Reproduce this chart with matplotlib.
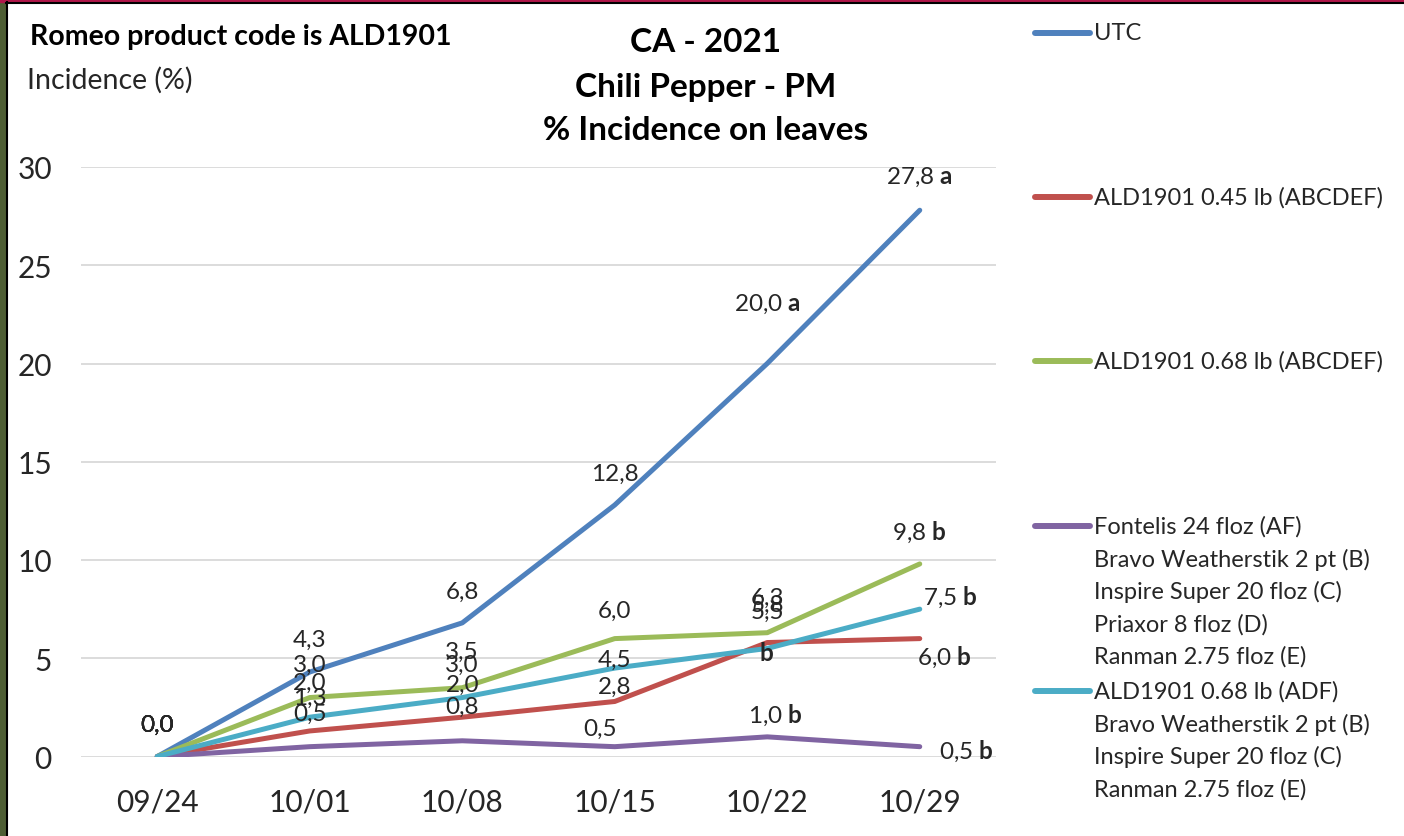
import matplotlib
matplotlib.use("Agg")
import matplotlib.pyplot as plt
from matplotlib.lines import Line2D
from matplotlib.patches import Rectangle

plt.rcParams['font.family'] = ['Lato', 'DejaVu Sans']
plt.rcParams['mathtext.fontset'] = 'custom'
plt.rcParams['mathtext.rm'] = 'Lato'
plt.rcParams['mathtext.bf'] = 'Lato:bold'

# Datos
fechas = ["09/24", "10/01", "10/08", "10/15", "10/22", "10/29"]
utc = [0.0, 4.3, 6.8, 12.8, 20.0, 27.8]
ald_045 = [0.0, 1.3, 2.0, 2.8, 5.8, 6.0]
ald_068 = [0.0, 3.0, 3.5, 6.0, 6.3, 9.8]
fontelis = [0.0, 0.5, 0.8, 0.5, 1.0, 0.5]
ald_068_adf = [0.0, 2.0, 3.0, 4.5, 5.5, 7.5]

# Letras de significancia
letras_utc = ["", "", "", "", "a", "a"]
letras_045 = ["", "", "", "", "", "b"]
letras_068 = ["", "", "", "", "", "b"]
letras_fontelis = ["", "", "", "", "b", "b"]
letras_adf = ["", "", "", "", "", "b"]

legend_labels = [
    "UTC",
    "ALD1901 0.45 lb (ABCDEF)",
    "ALD1901 0.68 lb (ABCDEF)",
    "Fontelis 24 floz (AF)\nBravo Weatherstik 2 pt (B)\nInspire Super 20 floz (C)\nPriaxor 8 floz (D)\nRanman 2.75 floz (E)",
    "ALD1901 0.68 lb (ADF)\nBravo Weatherstik 2 pt (B)\nInspire Super 20 floz (C)\nRanman 2.75 floz (E)",
]

series = [utc, ald_045, ald_068, fontelis, ald_068_adf]
letras = [letras_utc, letras_045, letras_068, letras_fontelis, letras_adf]
colores = ["#4F81BD", "#C0504D", "#9BBB59", "#8064A2", "#4BACC6"]

# desplazamientos de etiquetas (px, y hacia arriba)
offsets = [
    [(0, 32), (0, 33), (0, 32), (0, 32), (0, 60), (0, 34)],
    [(0, 32), (0, 34), (0, 33), (0, 15), (0, 38), (25, -18)],
    [(0, 32), (0, 33), (0, 36), (0, 28), (0, 35), (0, 33)],
    [(0, 32), (0, 33), (0, 34), (-15, 18), (8, 23), (47, -4)],
    [(0, 32), (0, 35), (0, 33), (0, 9), (0, 37), (31, 13)],
]

W, H = 1404, 837
fig = plt.figure(figsize=(W / 100, H / 100), dpi=100)
ax = fig.add_axes([81 / W, 1 - 757.5 / H, 915 / W, 589.5 / H])

x = list(range(len(fechas)))
for vals, col in zip(series, colores):
    ax.plot(x, vals, color=col, lw=3.6, solid_capstyle='round', solid_joinstyle='round', zorder=3)

txt_col = "#262626"
fs_lab = 17.5
for vals, lets, offs in zip(series, letras, offsets):
    for i, (v, l, o) in enumerate(zip(vals, lets, offs)):
        s = f"{v:.1f}".replace(".", ",")
        if l:
            s += " $\\mathbf{" + l + "}$"
        ax.annotate(s, (x[i], v), xytext=o, textcoords='offset pixels',
                    ha='center', va='center', fontsize=fs_lab, color=txt_col, zorder=5)

# letra suelta en 10/22
ax.annotate("$\\mathbf{b}$", (4, ald_045[4]), xytext=(-1, -10), textcoords='offset pixels',
            ha='center', va='center', fontsize=fs_lab, color=txt_col, zorder=5)

ax.set_xlim(-0.5, len(fechas) - 0.5)
ax.set_ylim(0, 30)
ax.set_yticks(range(0, 31, 5))
ax.set_xticks(x)
ax.set_xticklabels(fechas)
ax.grid(axis='y', color='#D9D9D9', lw=1.3, zorder=0)
ax.tick_params(length=0, labelsize=21.5, colors=txt_col)
ax.tick_params(axis='y', pad=21)
ax.tick_params(axis='x', pad=22)
for sp in ax.spines.values():
    sp.set_visible(False)

# titulos
fig.text(706 / W, 1 - 42 / H, "CA - 2021", ha='center', va='center', fontsize=24, fontweight='bold')
fig.text(706 / W, 1 - 87 / H, "Chili Pepper - PM", ha='center', va='center', fontsize=24, fontweight='bold')
fig.text(706 / W, 1 - 131 / H, "% Incidence on leaves", ha='center', va='center', fontsize=24, fontweight='bold')
fig.text(30 / W, 1 - 37 / H, "Romeo product code is ALD1901", ha='left', va='center', fontsize=20.5, fontweight='bold')
fig.text(27 / W, 1 - 80 / H, "Incidence (%)", ha='left', va='center', fontsize=20.5, color=txt_col)

# leyenda
leg_y = [34, 198, 362, 527, 692]
for lab, col, y in zip(legend_labels, colores, leg_y):
    fig.add_artist(Line2D([1035 / W, 1090 / W], [1 - y / H, 1 - y / H], color=col, lw=4.3,
                          solid_capstyle='round'))
    for k, linea in enumerate(lab.split("\n")):
        fig.text(1094 / W, 1 - (y + 32.5 * k) / H, linea, ha='left', va='center',
                 fontsize=17, color=txt_col)

# marco
fig.add_artist(Rectangle((0, 0), 6 / W, 1, transform=fig.transFigure, color="#4E5E34", zorder=10))
fig.add_artist(Rectangle((0, 1 - 3 / H), 1, 3 / H, transform=fig.transFigure, color="#B0174A", zorder=10))
fig.add_artist(Line2D([6.5 / W, 6.5 / W], [0, 1 - 3 / H], color='black', lw=1.5, zorder=11))
fig.add_artist(Line2D([6 / W, 1], [1 - 4 / H, 1 - 4 / H], color='black', lw=1.5, zorder=11))

fig.savefig("out.png", dpi=100)
